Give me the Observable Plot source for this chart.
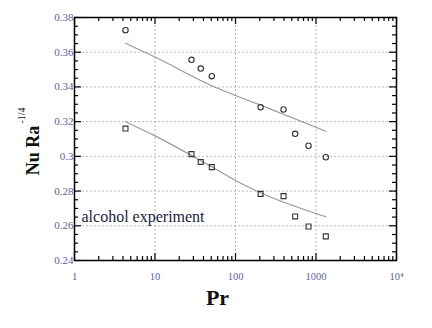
<!DOCTYPE html>
<html><head><meta charset="utf-8">
<script src="https://cdn.jsdelivr.net/npm/d3@7"></script>
<script src="https://cdn.jsdelivr.net/npm/@observablehq/plot@0.6"></script>
<style>body{margin:0;background:#fff}</style>
</head><body><div id="chart"></div>
<script>
// Data
const prValues = [4.3, 28.4, 37, 50.8, 205, 395, 551, 807, 1324];
const circleNu = [0.3727, 0.3556, 0.3506, 0.3462, 0.3283, 0.3270, 0.3130, 0.3061, 0.2995];
const squareNu = [0.3160, 0.3013, 0.2968, 0.2938, 0.2784, 0.2771, 0.2654, 0.2596, 0.2539];
const fitPr = [4.3, 10, 58, 100, 205, 1324];
const upperFit = [0.3652, 0.3572, 0.3395, 0.3351, 0.3295, 0.3145];
const lowerFit = [0.3200, 0.3118, 0.2924, 0.2861, 0.2790, 0.2652];

const xMajor = [1, 10, 100, 1000, 10000];
const xMajorLabels = ["1", "10", "100", "1000", "10\u2074"];
const xMinor = [2,3,4,5,6,7,8,9,20,30,40,50,60,70,80,90,200,300,400,500,600,700,800,900,2000,3000,4000,5000,6000,7000,8000,9000];
const yMajor = [0.24, 0.26, 0.28, 0.30, 0.32, 0.34, 0.36, 0.38];
const yMajorLabels = ["0.24", "0.26", "0.28", "0.3", "0.32", "0.34", "0.36", "0.38"];
const yMinor = [0.245,0.25,0.255,0.265,0.27,0.275,0.285,0.29,0.295,0.305,0.31,0.315,0.325,0.33,0.335,0.345,0.35,0.355,0.365,0.37,0.375];

const circles = prValues.map((p, i) => ({pr: p, nu: circleNu[i]}));
const squares = prValues.map((p, i) => ({pr: p, nu: squareNu[i]}));
const upper = fitPr.map((p, i) => ({pr: p, nu: upperFit[i]}));
const lower = fitPr.map((p, i) => ({pr: p, nu: lowerFit[i]}));

const W = 432, H = 328, ML = 74, MR = 36, MT = 17, MB = 68;
const FW = W - ML - MR, FH = H - MT - MB;
const labelColor = "#5c6399";
const tickStyle = {stroke: "#000", strokeWidth: 1.2};

const chart = Plot.plot({
  width: W, height: H,
  marginLeft: ML, marginRight: MR, marginTop: MT, marginBottom: MB,
  style: {fontFamily: "'Liberation Serif', 'DejaVu Serif', serif"},
  x: {type: "log", domain: [1, 10000], label: null},
  y: {domain: [0.24, 0.38], label: null},
  marks: [
    Plot.gridX(xMajor.slice(1, -1), {stroke: "#999", strokeOpacity: 0.7, strokeDasharray: "2,2"}),
    Plot.gridY(yMajor.slice(1, -1), {stroke: "#999", strokeOpacity: 0.7, strokeDasharray: "2,2"}),
    Plot.line(upper, {x: "pr", y: "nu", stroke: "#9a9a9a", strokeWidth: 1.2, curve: "monotone-x"}),
    Plot.line(lower, {x: "pr", y: "nu", stroke: "#9a9a9a", strokeWidth: 1.2, curve: "monotone-x"}),
    Plot.dot(circles, {x: "pr", y: "nu", r: 2.7, symbol: "circle", stroke: "#333", strokeWidth: 1.1}),
    Plot.dot(squares, {x: "pr", y: "nu", r: 2.8, symbol: "square", stroke: "#333", strokeWidth: 1.1}),
    Plot.axisX(xMajor, {anchor: "bottom", tickSize: 0, tickPadding: 12, label: null, fontSize: 10.5, fill: labelColor,
      tickFormat: d => xMajorLabels[xMajor.indexOf(d)]}),
    Plot.axisY(yMajor, {anchor: "left", tickSize: 0, tickPadding: 1, label: null, fontSize: 11, fill: labelColor,
      tickFormat: d => yMajorLabels[yMajor.indexOf(d)]}),
    Plot.text(["alcohol experiment"], {frameAnchor: "top-left", dx: 7, dy: 199, textAnchor: "start", lineAnchor: "middle", fontSize: 16, fill: "#1c1c3c"}),
    Plot.text(["Pr"], {frameAnchor: "bottom-left", dx: 143, dy: 37, textAnchor: "middle", lineAnchor: "middle", fontSize: 22, fontWeight: "bold", fill: "#111"}),
    Plot.text(["Nu Ra"], {frameAnchor: "top-left", dx: -41, dy: 133, rotate: -90, textAnchor: "middle", lineAnchor: "middle", fontSize: 18, fontWeight: "bold", fill: "#111"}),
    Plot.text(["-1/4"], {frameAnchor: "top-left", dx: -53, dy: 98, rotate: -90, textAnchor: "middle", lineAnchor: "middle", fontSize: 10, fill: "#111"}),
    // inward ticks and frame, drawn last
    Plot.ruleX(xMajor, {x: d => d, insetTop: FH - 7, ...tickStyle}),
    Plot.ruleX(xMinor, {x: d => d, insetTop: FH - 4, ...tickStyle}),
    Plot.ruleX(xMajor, {x: d => d, insetBottom: FH - 7, ...tickStyle}),
    Plot.ruleX(xMinor, {x: d => d, insetBottom: FH - 4, ...tickStyle}),
    Plot.ruleY(yMajor, {y: d => d, insetRight: FW - 7, ...tickStyle}),
    Plot.ruleY(yMinor, {y: d => d, insetRight: FW - 4, ...tickStyle}),
    Plot.ruleY(yMajor, {y: d => d, insetLeft: FW - 7, ...tickStyle}),
    Plot.ruleY(yMinor, {y: d => d, insetLeft: FW - 4, ...tickStyle}),
    Plot.frame({stroke: "#000", strokeWidth: 1.5})
  ]
});
document.getElementById("chart").appendChild(chart);
</script>
</body></html>
